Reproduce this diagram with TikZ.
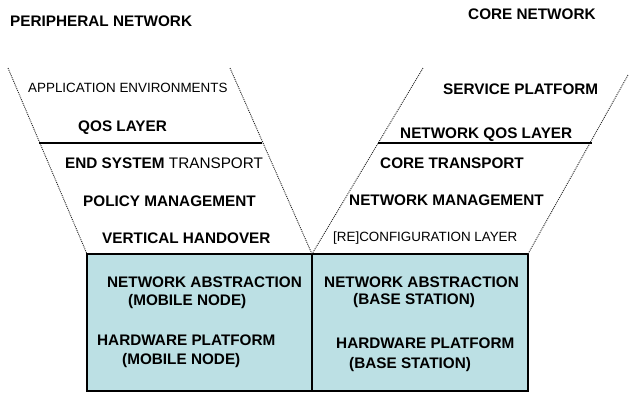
\documentclass[tikz,border=0pt]{standalone}
\usepackage{fontspec}
\setmainfont{Liberation Sans}
\definecolor{boxfill}{RGB}{188,224,228}
\tikzset{
  lbl/.style={anchor=base west, inner sep=0pt, font=\fontsize{15.3}{17}\selectfont\bfseries},
  lblr/.style={anchor=base west, inner sep=0pt, font=\fontsize{13.4}{15}\selectfont},
  funnel/.style={draw=black!85, dash pattern=on 1pt off 1pt, line width=0.9pt},
  divider/.style={draw=black, line width=1.1pt},
  boxline/.style={draw=black, line width=1.1pt}
}
\begin{document}
\begin{tikzpicture}[x=1pt,y=-1pt]
\useasboundingbox (0,0) rectangle (629,392);
% coordinates
\coordinate (LTL) at (8,68);
\coordinate (LBL) at (87,254);
\coordinate (LTR) at (230,68);
\coordinate (MID) at (312,254);
\coordinate (RTL) at (423,68);
\coordinate (RBR) at (528,254);
\coordinate (RTR) at (628,75);
\coordinate (BL) at (87,391);
\coordinate (BM) at (312,391);
\coordinate (BR) at (528,391);
% boxes
\fill[boxfill] (LBL) rectangle (BR);
\draw[boxline] (BL) -- (LBL) -- (RBR) -- (BR) -- cycle;
\draw[boxline] (MID) -- (BM);
% funnels
\draw[funnel] (LTL) -- (LBL);
\draw[funnel] (LTR) -- (MID);
\draw[funnel] (RTL) -- (MID);
\draw[funnel] (RTR) -- (RBR);
% horizontal separators
\coordinate (SL1) at (39,143);
\coordinate (SL2) at (262,143);
\coordinate (SR1) at (378,143);
\coordinate (SR2) at (592,143);
\draw[divider] (SL1) -- (SL2);
\draw[divider] (SR1) -- (SR2);
% titles
\node[lbl] (pn) at (10,26.4) {PERIPHERAL NETWORK};
\node[lbl] (cn) at (468,19.4) {CORE NETWORK};
% left funnel
\node[lblr] (ae) at (28,92.7) {APPLICATION ENVIRONMENTS};
\node[lbl] (ql) at (78,131.4) {QOS LAYER};
\node[lbl] (est) at (65,168.4) {END SYSTEM \mdseries TRANSPORT};
\node[lbl] (pm) at (83,206.4) {POLICY MANAGEMENT};
\node[lbl] (vh) at (102,243.4) {VERTICAL HANDOVER};
% right funnel
\node[lbl] (sp) at (443,94.4) {SERVICE PLATFORM};
\node[lbl] (nql) at (400,138.4) {NETWORK QOS LAYER};
\node[lbl] (ct) at (380,168.4) {CORE TRANSPORT};
\node[lbl] (nm) at (349,205.4) {NETWORK MANAGEMENT};
\node[lblr] (rc) at (333,241.7) {[RE]CONFIGURATION LAYER};
% left box
\node[lbl] (na1) at (107,287.4) {NETWORK ABSTRACTION};
\node[lbl] (mn1) at (128,305.4) {(MOBILE NODE)};
\node[lbl] (hp1) at (97,345.4) {HARDWARE PLATFORM};
\node[lbl] (mn2) at (122,364.4) {(MOBILE NODE)};
% right box
\node[lbl] (na2) at (324,287.4) {NETWORK ABSTRACTION};
\node[lbl] (bs1) at (353,304.4) {(BASE STATION)};
\node[lbl] (hp2) at (336,348.4) {HARDWARE PLATFORM};
\node[lbl] (bs2) at (349,368.4) {(BASE STATION)};
\end{tikzpicture}
\end{document}
